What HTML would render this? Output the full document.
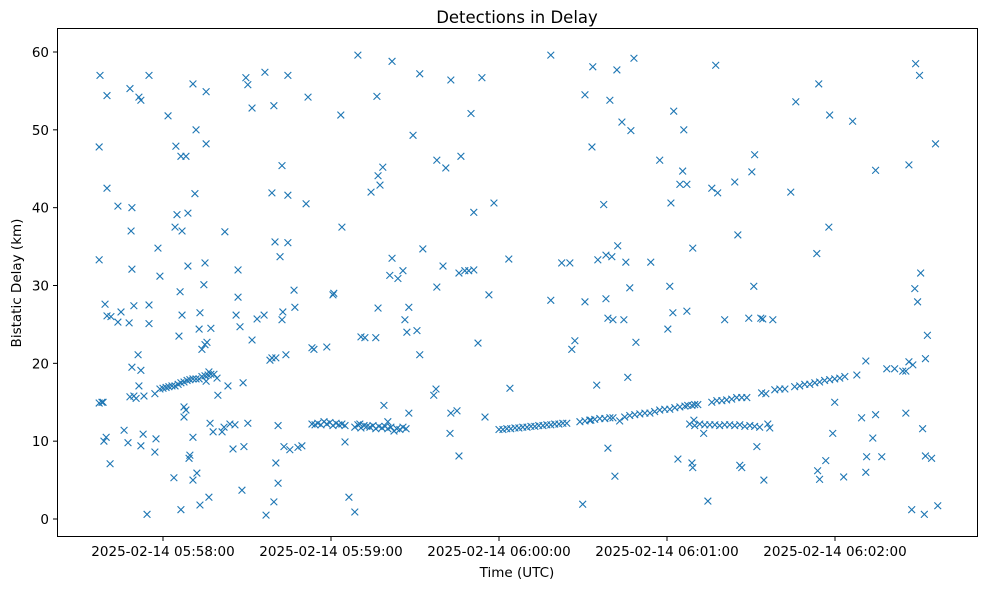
<!DOCTYPE html>
<html><head><meta charset="utf-8"><style>
body{margin:0;background:#fff;}
svg text{font-family:"DejaVu Sans","Liberation Sans",sans-serif;fill:#000;}
</style></head><body>
<svg id="chart" width="989" height="590" xmlns="http://www.w3.org/2000/svg">
<rect width="989" height="590" fill="#fff"/>
<text x="517" y="23" font-size="16.5" text-anchor="middle">Detections in Delay</text>
<text x="517" y="577" font-size="13.5" text-anchor="middle">Time (UTC)</text>
<text transform="translate(21,283) rotate(-90)" font-size="13.5" text-anchor="middle">Bistatic Delay (km)</text>
<g id="marks"></g>
<g id="axes"></g>
<rect x="57.5" y="28.5" width="920" height="508" fill="none" stroke="#000" stroke-width="1"/>
</svg>
<script>
// seconds relative to 2025-02-14 05:58:00 UTC
const clutterTimes=[-22.8,-22.8,-22.5,-21.1,-20.3,-20.0,-20.0,-20.7,-20.0,-18.9,-18.6,-16.1,-15.0,-16.1,-13.9,-12.5,-12.1,-11.8,-11.1,-11.1,-10.4,-11.4,-11.1,-8.6,-8.6,-7.9,-8.9,-7.9,-7.1,-7.9,-5.7,-5.0,-5.0,-5.0,-2.9,-2.5,-1.8,-1.1,1.8,3.9,4.3,4.6,5.0,5.7,6.1,6.4,6.4,6.8,7.5,6.8,7.5,8.2,8.2,8.9,8.9,9.3,9.6,10.7,10.7,10.7,11.4,11.8,12.1,12.9,13.2,13.2,13.9,14.6,15.0,15.0,15.4,15.4,15.4,15.7,16.4,16.4,16.8,17.1,17.9,19.3,19.6,21.1,22.1,21.8,23.2,23.9,25.0,25.7,26.1,26.8,26.8,27.5,28.2,28.6,28.9,30.3,30.3,29.6,31.8,31.8,33.6,36.1,36.4,36.8,38.2,38.9,38.9,39.6,39.6,40.0,40.3,40.3,41.1,41.1,41.8,42.5,42.8,42.5,43.2,43.9,44.6,44.6,44.6,45.3,46.8,47.1,48.2,49.6,51.1,51.8,53.9,53.2,58.5,60.7,61.0,63.5,63.9,65.0,66.4,68.5,70.3,69.6,70.7,72.1,74.3,76.0,76.4,76.8,76.8,77.5,78.5,78.9,80.3,81.0,81.8,81.8,83.9,85.7,86.4,87.1,87.8,87.8,89.3,90.7,91.7,91.7,92.8,96.7,97.5,97.8,97.8,100.0,101.0,102.5,102.8,102.8,105.0,105.7,106.4,105.7,107.8,109.2,110.0,111.0,111.0,112.5,113.9,115.0,116.4,118.2,123.5,123.9,138.5,138.5,142.4,145.3,146.0,147.1,149.9,150.7,150.7,152.8,153.2,153.5,154.9,155.3,157.4,158.2,158.2,158.9,158.9,159.6,160.3,160.7,161.4,162.1,162.4,163.9,164.6,165.3,166.0,166.7,167.1,168.2,168.9,174.2,177.4,180.3,181.0,181.4,182.1,182.4,183.9,184.6,186.0,187.1,185.6,187.1,188.9,189.2,189.2,189.6,193.1,194.6,196.0,197.4,198.1,200.6,204.2,205.3,206.0,206.7,209.2,210.3,211.0,211.3,212.1,213.5,214.2,214.6,216.0,216.7,217.8,224.2,226.0,233.8,234.2,233.5,234.5,236.7,237.8,238.1,239.2,239.9,243.1,246.3,249.5,251.0,251.3,253.5,254.5,254.5,256.7,258.5,261.3,265.3,265.3,266.4,266.4,267.4,268.5,268.8,269.5,270.2,270.6,271.3,271.9,272.3,272.3,273.0,274.5,275.9,276.7,264.2,267.8,251.0,247.8];
const clutterDelays=[47.8,33.3,57.0,10.0,10.5,54.4,42.5,27.6,26.1,7.1,26.0,40.2,26.6,25.3,11.4,9.8,25.2,55.3,40.0,32.1,27.4,37.0,19.5,17.1,54.2,53.8,21.1,19.1,10.9,9.4,0.6,25.1,57.0,27.5,8.6,10.3,34.8,31.2,51.8,5.3,37.5,47.9,39.1,23.5,29.2,1.2,46.6,26.2,14.4,37.0,13.1,14.0,46.6,32.5,39.3,7.8,8.2,5.0,55.9,10.5,41.8,50.0,5.9,24.4,1.8,26.5,21.8,30.1,22.4,32.9,17.7,54.9,48.2,22.7,18.9,2.8,12.3,24.5,11.2,18.1,15.9,11.2,36.9,11.8,17.1,12.2,9.0,12.1,26.2,32.0,28.5,24.7,3.7,17.5,9.3,12.3,55.8,56.7,23.0,52.8,25.7,26.2,57.4,0.5,20.4,20.7,41.9,2.2,53.1,35.6,20.7,7.2,12.0,4.6,33.7,45.4,26.6,25.6,9.3,21.1,57.0,35.5,41.6,8.9,29.4,27.2,9.2,9.4,40.5,54.2,21.8,22.0,22.1,28.8,29.0,51.9,37.5,9.9,2.8,0.9,12.2,59.6,23.4,23.3,42.0,23.3,54.3,27.1,44.1,42.9,45.2,14.6,12.5,31.3,58.8,33.5,30.9,31.9,25.6,24.0,13.6,27.2,49.3,24.2,57.2,21.1,34.7,15.9,16.7,46.1,29.8,32.5,45.1,11.0,56.4,13.6,13.9,8.1,46.6,31.6,31.9,31.9,52.1,32.0,39.4,22.6,56.7,13.1,28.8,40.6,33.4,16.8,28.1,59.6,32.9,32.9,21.8,22.9,1.9,27.9,54.5,12.7,47.8,58.1,17.2,33.3,40.4,33.9,28.3,9.1,25.8,53.8,33.7,25.6,5.5,57.7,35.1,51.0,25.6,33.0,18.2,29.7,49.9,59.2,22.7,33.0,46.1,24.4,29.9,40.6,26.5,52.4,7.7,43.0,50.0,26.7,44.7,43.0,7.2,6.6,34.8,12.7,11.0,2.3,42.5,58.3,41.9,25.6,43.3,36.5,6.9,6.6,25.8,44.6,29.9,46.8,9.3,25.8,25.7,5.0,12.2,11.7,25.6,42.0,53.6,6.2,55.9,34.1,5.1,7.5,37.5,51.9,11.0,15.0,5.4,51.1,13.0,6.0,8.0,10.4,44.8,13.4,8.0,19.3,19.3,19.0,13.6,45.5,20.2,1.2,29.6,58.5,27.9,57.0,31.6,11.6,0.6,8.1,20.6,23.6,7.8,48.2,1.7,19.0,19.8,20.3,18.5,17.7];
const track1Times=[-22.8,-21.8,-21.4,-11.8,-10.4,-9.6,-6.8,-2.9,-1.1,0,1.1,2.1,3.2,4.3,5.4,6.4,7.5,8.6,9.6,10.7,11.8,12.9,13.9,15.0,16.1,17.1,18.2];
const track1Delays=[14.9,15.0,15.0,15.7,15.8,15.5,15.8,16.1,16.7,16.8,16.9,17.0,17.1,17.1,17.3,17.5,17.6,17.8,17.9,18.0,18.0,18.0,18.3,18.4,18.5,18.6,18.6];
const track2Times=[53.2,54.3,55.3,56.4,57.5,58.5,59.6,60.7,61.8,62.8,63.9,65.0,68.5,69.6,70.7,71.8,72.8,73.9,75.0,76.0,77.1,78.2,79.3,80.3,81.4,82.5,83.5,84.6,85.7,86.8];
const track2Delays=[12.2,12.1,12.3,12.1,12.5,12.2,12.4,12.0,12.3,12.1,12.2,12.0,11.8,12.1,11.7,12.0,11.9,11.8,12.0,11.6,11.9,11.7,11.9,11.6,11.8,11.3,11.6,11.5,11.8,11.6];
const track3Times=[120.0,121.4,122.8,124.2,125.7,127.1,128.5,130.0,131.4,132.8,134.2,135.7,137.1,138.5,139.9,141.4,142.8,144.2,148.9,150.7,152.4,154.2,156.0,157.8,159.6,160.7,163.1,164.9,166.7,168.5,170.3,172.1,173.9,175.6,177.4,179.2,181.0,182.8,184.6,186.4,187.4,188.9,189.9,191.0];
const track3Delays=[11.5,11.5,11.6,11.6,11.7,11.7,11.8,11.8,11.9,11.9,12.0,12.0,12.1,12.1,12.2,12.2,12.3,12.3,12.5,12.6,12.7,12.8,12.9,12.9,13.0,13.0,12.6,13.1,13.3,13.4,13.5,13.6,13.6,13.8,14.0,14.1,14.1,14.3,14.4,14.5,14.6,14.6,14.7,14.7];
const track4Times=[188.1,189.9,191.7,193.5,195.3,197.1,198.8,200.6,202.4,204.2,206.0,207.8,209.6,211.3,213.1];
const track4Delays=[12.2,12.0,12.2,12.1,12.1,12.1,12.0,12.1,12.1,12.0,12.1,11.9,12.0,11.9,11.8];
const track5Times=[196.0,197.8,199.6,201.3,203.1,204.9,206.7,208.5,213.8,215.3,218.5,220.3,222.1,225.6,227.4,229.2,231.0,232.8,234.5,236.3,238.1,239.9,241.7,243.5];
const track5Delays=[15.0,15.2,15.2,15.3,15.4,15.6,15.6,15.6,16.2,16.1,16.6,16.7,16.7,17.0,17.1,17.3,17.3,17.5,17.6,17.8,17.9,18.0,18.1,18.3];
const yTicks=[0,10,20,30,40,50,60];
const xTicks=[0,60,120,180,240];
const xTickLabels=["2025-02-14 05:58:00","2025-02-14 05:59:00","2025-02-14 06:00:00","2025-02-14 06:01:00","2025-02-14 06:02:00"];

const NS="http://www.w3.org/2000/svg";
function xScale(t){return 163+t*2.8;}
function yScale(v){return 519-v*7.7833;}
function mk(tag,attrs,parent){const e=document.createElementNS(NS,tag);for(const k in attrs)e.setAttribute(k,attrs[k]);parent.appendChild(e);return e;}
const marks=document.getElementById('marks');
const axes=document.getElementById('axes');
function plotSeries(ts,ds,name){
  for(let i=0;i<ts.length;i++){
    const x=xScale(ts[i]),y=yScale(ds[i]),r=3.4;
    const p=mk('path',{d:`M${x-r},${y-r}L${x+r},${y+r}M${x-r},${y+r}L${x+r},${y-r}`,stroke:'#1f77b4','stroke-width':'1.1',fill:'none'},marks);
    
    
  }
}
plotSeries(clutterTimes,clutterDelays,'clutter');
plotSeries(track1Times,track1Delays,'track-1');
plotSeries(track2Times,track2Delays,'track-2');
plotSeries(track3Times,track3Delays,'track-3');
plotSeries(track4Times,track4Delays,'track-4');
plotSeries(track5Times,track5Delays,'track-5');
yTicks.forEach(v=>{
  const y=yScale(v);
  const l=mk('line',{x1:53,x2:57.5,y1:y,y2:y,stroke:'#000'},axes);
  
  
  const t=mk('text',{x:49,y:y+5,'font-size':'13.5','text-anchor':'end'},axes);
  t.textContent=v;
  
  
});
xTicks.forEach((v,i)=>{
  const x=xScale(v);
  const l=mk('line',{x1:x,x2:x,y1:536.5,y2:541,stroke:'#000'},axes);
  
  
  const t=mk('text',{x:x,y:556,'font-size':'13.5','text-anchor':'middle'},axes);
  t.textContent=xTickLabels[i];
  
  
});
</script>
</body></html>
